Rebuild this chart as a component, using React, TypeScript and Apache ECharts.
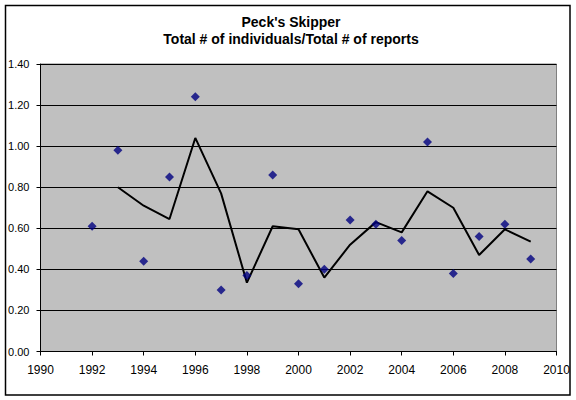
import React, { useEffect, useRef } from "react";
import * as echarts from "echarts";

const years = [1992, 1993, 1994, 1995, 1996, 1997, 1998, 1999, 2000, 2001, 2002, 2003, 2004, 2005, 2006, 2007, 2008, 2009];
const ratios = [0.61, 0.98, 0.44, 0.85, 1.24, 0.30, 0.37, 0.86, 0.33, 0.40, 0.64, 0.62, 0.54, 1.02, 0.38, 0.56, 0.62, 0.45];
const trendYears = [1993, 1994, 1995, 1996, 1997, 1998, 1999, 2000, 2001, 2002, 2003, 2004, 2005, 2006, 2007, 2008, 2009];
const trendValues = [0.80, 0.71, 0.645, 1.04, 0.77, 0.335, 0.61, 0.595, 0.36, 0.52, 0.63, 0.58, 0.78, 0.70, 0.47, 0.595, 0.535];
const titleLines = ["Peck's Skipper", "Total # of individuals/Total # of reports"];

const FONT = "'Liberation Sans', Arial, sans-serif";

export default function App() {
  const ref = useRef<HTMLDivElement>(null);
  useEffect(() => {
    if (!ref.current) return;
    const chart = echarts.init(ref.current, null, { renderer: "svg" });
    chart.setOption({
      animation: false,
      backgroundColor: "#ffffff",
      title: {
        text: titleLines.join("\n"),
        left: 286,
        textAlign: "center",
        top: 8,
        textStyle: { fontFamily: FONT, fontSize: 14, fontWeight: "bold", color: "#000", lineHeight: 17 },
      },
      graphic: [
        {
          type: "rect",
          shape: { x: 5.5, y: 5.5, width: 564.5, height: 389.5 },
          style: { fill: "none", stroke: "#000", lineWidth: 1.5 },
          silent: true,
        },
      ],
      grid: {
        left: 40.5,
        right: 19.5,
        top: 64,
        bottom: 48.5,
        show: true,
        backgroundColor: "#C0C0C0",
        borderColor: "#808080",
        borderWidth: 1,
      },
      xAxis: {
        type: "value",
        min: 1990,
        max: 2010,
        interval: 2,
        axisLine: { show: true, lineStyle: { color: "#000", width: 1 } },
        axisTick: { show: true, inside: false, length: 4, lineStyle: { color: "#000" } },
        splitLine: { show: false },
        axisLabel: {
          fontFamily: FONT,
          fontSize: 12,
          color: "#000",
          margin: 12,
          formatter: (v: number) => String(v),
        },
      },
      yAxis: {
        type: "value",
        min: 0,
        max: 1.4,
        interval: 0.2,
        axisLine: { show: true, lineStyle: { color: "#000", width: 1 } },
        axisTick: { show: true, inside: false, length: 4, lineStyle: { color: "#000" } },
        splitLine: { show: true, lineStyle: { color: "#000", width: 1 } },
        axisLabel: {
          fontFamily: FONT,
          fontSize: 11,
          color: "#000",
          margin: 11,
          formatter: (v: number) => v.toFixed(2),
        },
      },
      series: [
        {
          type: "line",
          data: trendYears.map((y, i) => [y, trendValues[i]]),
          showSymbol: false,
          symbol: "none",
          lineStyle: { color: "#000", width: 2 },
          z: 2,
        },
        {
          type: "scatter",
          data: years.map((y, i) => [y, ratios[i]]),
          symbol: "diamond",
          symbolSize: 9,
          itemStyle: { color: "#000080" },
          z: 3,
        },
      ],
    });
    return () => chart.dispose();
  }, []);
  return (
    <div
      ref={ref}
      style={{ position: "absolute", left: 0, top: 0, width: 576, height: 400 }}
    />
  );
}
